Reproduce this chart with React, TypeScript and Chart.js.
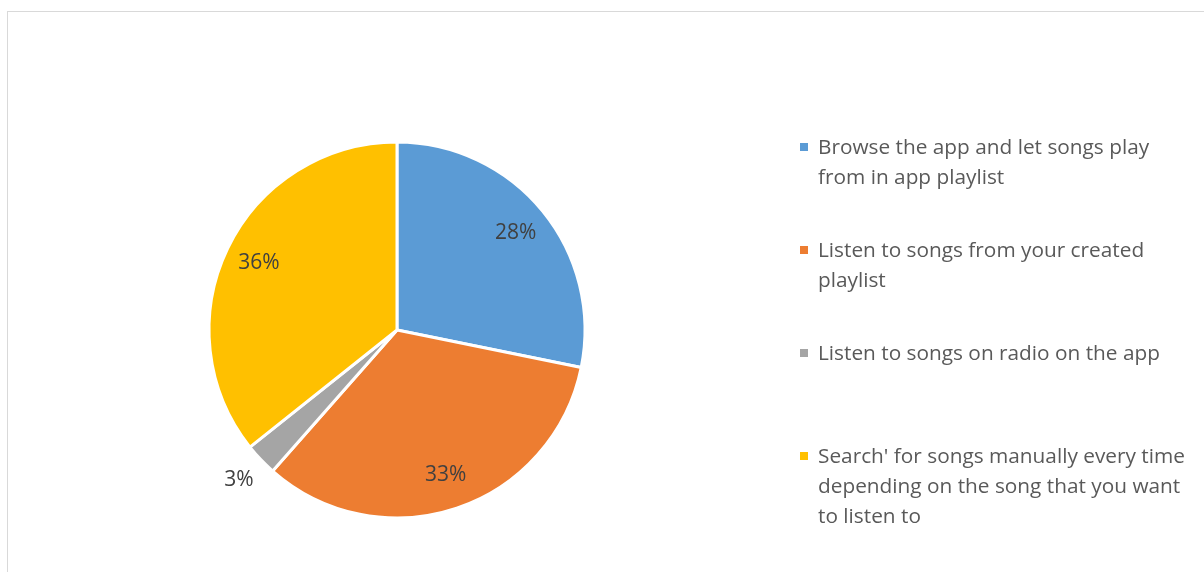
import React, { useEffect, useRef } from "react";
import { Chart, registerables } from "chart.js";

Chart.register(...registerables);

const categories = [
  "Browse the app and let songs play from in app playlist",
  "Listen to songs from your created playlist",
  "Listen to songs on radio on the app",
  "Search' for songs manually every time depending on the song that you want to listen to",
];
const legendLines = [
  ["Browse the app and let songs play", "from in app playlist"],
  ["Listen to songs from your created", "playlist"],
  ["Listen to songs on radio on the app"],
  ["Search' for songs manually every time", "depending on the song that you want", "to listen to"],
];
const values = [28.2, 33.3, 2.8, 35.7];
const colors = ["#5B9BD5", "#ED7D31", "#A5A5A5", "#FFC000"];

const FONT = "'Open Sans', 'Noto Sans', sans-serif";

const labelPlugin = {
  id: "pieLabels",
  afterDatasetsDraw(chart: any) {
    const ctx = chart.ctx;
    const meta = chart.getDatasetMeta(0);
    const data = chart.data.datasets[0].data as number[];
    const total = data.reduce((a, b) => a + b, 0);
    ctx.save();
    ctx.font = `21px ${FONT}`;
    ctx.fillStyle = "#404040";
    ctx.textAlign = "center";
    ctx.textBaseline = "middle";
    meta.data.forEach((arc: any, i: number) => {
      const p = arc.getProps(["x", "y", "startAngle", "endAngle", "outerRadius"], true);
      const mid = (p.startAngle + p.endAngle) / 2;
      const pct = (data[i] / total) * 100;
      const r = pct < 5 ? p.outerRadius * 1.16 : p.outerRadius * 0.815;
      ctx.fillText(Math.round(pct) + "%", p.x + Math.cos(mid) * r, p.y + Math.sin(mid) * r);
    });
    ctx.restore();
  },
};

const legendPlugin = {
  id: "wrapLegend",
  afterDraw(chart: any) {
    const ctx = chart.ctx;
    const x0 = 792;
    const y0 = 135;
    const itemGap = 103;
    const lineH = 30;
    ctx.save();
    ctx.font = `20.8px ${FONT}`;
    ctx.textAlign = "left";
    ctx.textBaseline = "middle";
    legendLines.forEach((lines, i) => {
      const y = y0 + i * itemGap;
      ctx.fillStyle = colors[i];
      ctx.fillRect(x0, y - 4, 8, 8);
      ctx.fillStyle = "#595959";
      lines.forEach((ln, j) => ctx.fillText(ln, x0 + 18, y + j * lineH + 1));
    });
    ctx.restore();
  },
};

export default function App() {
  const ref = useRef<HTMLCanvasElement>(null);
  useEffect(() => {
    const chart = new Chart(ref.current!, {
      type: "pie",
      data: {
        labels: categories,
        datasets: [
          {
            data: values,
            backgroundColor: colors,
            borderColor: "#ffffff",
            borderWidth: 3,
          },
        ],
      },
      options: {
        responsive: false,
        animation: false,
        radius: 188,
        layout: { padding: { left: 200, right: 618, top: 130, bottom: 54 } },
        plugins: {
          legend: { display: false },
          tooltip: { enabled: false },
        },
      } as any,
      plugins: [labelPlugin, legendPlugin],
    });
    return () => chart.destroy();
  }, []);
  return (
    <div
      style={{
        position: "absolute",
        left: 7,
        top: 11,
        width: 1197,
        height: 561,
        borderTop: "1px solid #d9d9d9",
        borderLeft: "1px solid #d9d9d9",
        background: "#fff",
      }}
    >
      <canvas ref={ref} width={1196} height={560} style={{ display: "block" }} />
    </div>
  );
}
